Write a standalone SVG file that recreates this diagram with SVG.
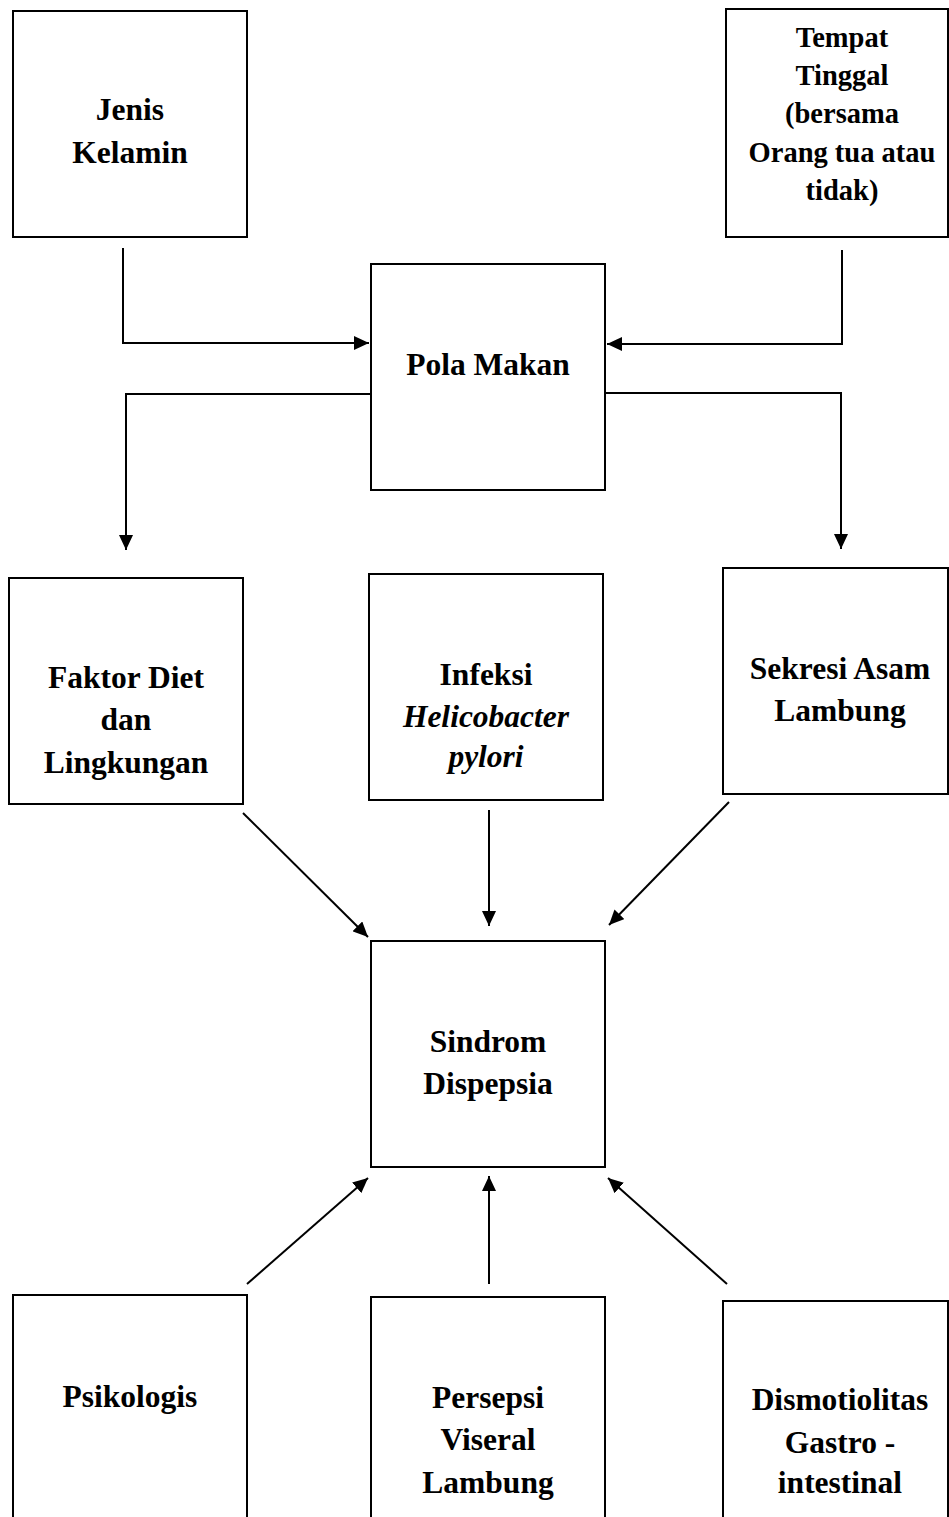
<svg xmlns="http://www.w3.org/2000/svg" width="949" height="1517" viewBox="0 0 949 1517">
<style>
.box{fill:#fff;stroke:#000;stroke-width:2}
.lbl{font-family:"Liberation Serif","Times New Roman",serif;font-weight:bold;font-size:31.5px;text-anchor:middle;fill:#000}
.sm{font-size:28.5px}
.it{font-style:italic}
.con{fill:none;stroke:#000;stroke-width:2}
</style>
<defs>
<marker id="ah" markerUnits="userSpaceOnUse" markerWidth="16" markerHeight="14" refX="15" refY="7" orient="auto">
<path d="M0,0 L15,7 L0,14 z" fill="#000"/>
</marker>
</defs>
<rect width="949" height="1517" fill="#fff"/>
<g id="connectors">
<polyline class="con" points="123,248 123,343 369,343" marker-end="url(#ah)"/>
<polyline class="con" points="842,250 842,344 607,344" marker-end="url(#ah)"/>
<polyline class="con" points="371,394 126,394 126,550" marker-end="url(#ah)"/>
<polyline class="con" points="605,393 841,393 841,549" marker-end="url(#ah)"/>
<line class="con" x1="243" y1="813" x2="368" y2="937" marker-end="url(#ah)"/>
<line class="con" x1="489" y1="810" x2="489" y2="926" marker-end="url(#ah)"/>
<line class="con" x1="729" y1="802" x2="609" y2="925" marker-end="url(#ah)"/>
<line class="con" x1="247" y1="1284" x2="368" y2="1178" marker-end="url(#ah)"/>
<line class="con" x1="489" y1="1284" x2="489" y2="1176" marker-end="url(#ah)"/>
<line class="con" x1="727" y1="1284" x2="608" y2="1178" marker-end="url(#ah)"/>
</g>
<g id="jenis-kelamin">
<rect class="box" x="13" y="11" width="234" height="226"/>
<text class="lbl" x="130" y="120">Jenis</text>
<text class="lbl" x="130" y="163">Kelamin</text>
</g>
<g id="tempat-tinggal">
<rect class="box" x="726" y="9" width="222" height="228"/>
<text class="lbl sm" x="842" y="47">Tempat</text>
<text class="lbl sm" x="842" y="85">Tinggal</text>
<text class="lbl sm" x="842" y="123">(bersama</text>
<text class="lbl sm" x="842" y="162">Orang tua atau</text>
<text class="lbl sm" x="842" y="200">tidak)</text>
</g>
<g id="pola-makan">
<rect class="box" x="371" y="264" width="234" height="226"/>
<text class="lbl" x="488" y="375">Pola Makan</text>
</g>
<g id="faktor-diet">
<rect class="box" x="9" y="578" width="234" height="226"/>
<text class="lbl" x="126" y="688">Faktor Diet</text>
<text class="lbl" x="126" y="730">dan</text>
<text class="lbl" x="126" y="773">Lingkungan</text>
</g>
<g id="infeksi">
<rect class="box" x="369" y="574" width="234" height="226"/>
<text class="lbl" x="486" y="685">Infeksi</text>
<text class="lbl it" x="486" y="727">Helicobacter</text>
<text class="lbl it" x="486" y="767">pylori</text>
</g>
<g id="sekresi">
<rect class="box" x="723" y="568" width="225" height="226"/>
<text class="lbl" x="840" y="679">Sekresi Asam</text>
<text class="lbl" x="840" y="721">Lambung</text>
</g>
<g id="sindrom">
<rect class="box" x="371" y="941" width="234" height="226"/>
<text class="lbl" x="488" y="1052">Sindrom</text>
<text class="lbl" x="488" y="1094">Dispepsia</text>
</g>
<g id="psikologis">
<rect class="box" x="13" y="1295" width="234" height="240"/>
<text class="lbl" x="130" y="1407">Psikologis</text>
</g>
<g id="persepsi">
<rect class="box" x="371" y="1297" width="234" height="240"/>
<text class="lbl" x="488" y="1408">Persepsi</text>
<text class="lbl" x="488" y="1450">Viseral</text>
<text class="lbl" x="488" y="1493">Lambung</text>
</g>
<g id="dismotilitas">
<rect class="box" x="723" y="1301" width="225" height="240"/>
<text class="lbl" x="840" y="1410">Dismotiolitas</text>
<text class="lbl" x="840" y="1453">Gastro -</text>
<text class="lbl" x="840" y="1493">intestinal</text>
</g>
</svg>
